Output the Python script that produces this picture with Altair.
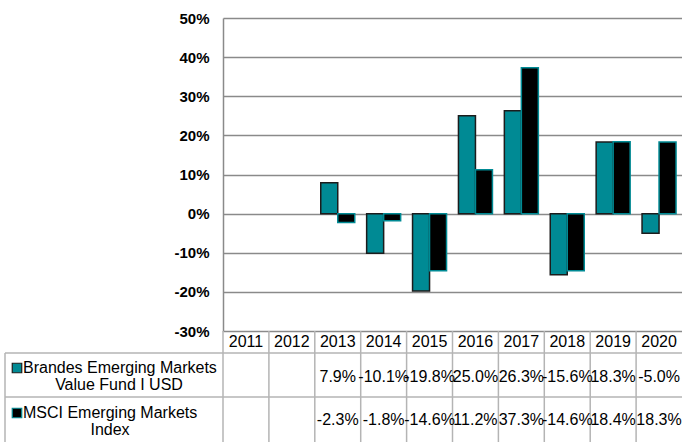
import altair as alt
import pandas as pd

years = ["2011", "2012", "2013", "2014", "2015", "2016", "2017", "2018", "2019", "2020"]
fund = [None, None, 7.9, -10.1, -19.8, 25.0, 26.3, -15.6, 18.3, -5.0]
index_vals = [None, None, -2.3, -1.8, -14.6, 11.2, 37.3, -14.6, 18.4, 18.3]
series_names = ["Brandes Emerging Markets Value Fund I USD", "MSCI Emerging Markets Index"]
label_lines = [["Brandes Emerging Markets", "Value Fund I USD"], ["MSCI Emerging Markets", "Index"]]
y_ticks = [-30, -20, -10, 0, 10, 20, 30, 40, 50]

TEAL = "#008A94"
DARK = "#1c1c1c"
FONT = "Liberation Sans"
GRID = "#8a8a8a"
TABLE = "#b4b4b4"

rows = []
for s, vals in zip(series_names, [fund, index_vals]):
    for y, v in zip(years, vals):
        if v is not None:
            rows.append({"year": y, "series": s, "value": v})
bars_df = pd.DataFrame(rows)


def fmt(v):
    return "" if v is None else f"{v:.1f}%"


table_df = pd.DataFrame({
    "year": years,
    "fund_txt": [fmt(v) for v in fund],
    "index_txt": [fmt(v) for v in index_vals],
})
years_df = pd.DataFrame({"year": years})
one = pd.DataFrame({"k": [0]})

W, H = 459, 313
x_scale = alt.Scale(domain=years, paddingInner=0, paddingOuter=0)

bars = alt.Chart(bars_df).mark_bar(strokeWidth=1.5).encode(
    x=alt.X("year:N", scale=x_scale, axis=None),
    xOffset=alt.XOffset("series:N", scale=alt.Scale(domain=series_names, paddingInner=0, paddingOuter=0.35)),
    y=alt.Y("value:Q", scale=alt.Scale(domain=[-30, 50], nice=False, zero=False),
            axis=alt.Axis(values=y_ticks, title=None, grid=True, gridColor=GRID, gridWidth=1.5,
                          domainColor=GRID, domainWidth=1.5, ticks=False,
                          labelExpr="datum.value + '%'", labelFont=FONT, labelFontSize=15,
                          labelFontWeight="bold", labelColor="black", labelPadding=14)),
    color=alt.Color("series:N", scale=alt.Scale(domain=series_names, range=[TEAL, "black"]), legend=None),
    stroke=alt.Stroke("series:N", scale=alt.Scale(domain=series_names, range=[DARK, TEAL]), legend=None),
)

vrules = alt.Chart(years_df).mark_rule(color=TABLE, strokeWidth=1.5).encode(
    x=alt.X("year:N", scale=x_scale, axis=None, bandPosition=0),
    y=alt.value(H), y2=alt.value(440),
)

hrule1 = alt.Chart(one).mark_rule(color=TABLE, strokeWidth=1.5).encode(
    x=alt.value(-218), x2=alt.value(W), y=alt.value(335))
hrule2 = alt.Chart(one).mark_rule(color=TABLE, strokeWidth=1.5).encode(
    x=alt.value(-218), x2=alt.value(W), y=alt.value(379))
lrule = alt.Chart(one).mark_rule(color=TABLE, strokeWidth=1.5).encode(
    x=alt.value(-218), y=alt.value(335), y2=alt.value(440))

year_txt = alt.Chart(years_df).mark_text(font=FONT, fontSize=16, baseline="middle", color="black").encode(
    x=alt.X("year:N", scale=x_scale, axis=None), y=alt.value(324), text="year:N")

fund_txt = alt.Chart(table_df).mark_text(font=FONT, fontSize=16, baseline="middle", color="black").encode(
    x=alt.X("year:N", scale=x_scale, axis=None), y=alt.value(359), text="fund_txt:N")
index_txt = alt.Chart(table_df).mark_text(font=FONT, fontSize=16, baseline="middle", color="black").encode(
    x=alt.X("year:N", scale=x_scale, axis=None), y=alt.value(402), text="index_txt:N")

lab_layers = []
for (l1, l2), y1, y2, cx2 in zip(label_lines, [350, 395], [367, 412], [-104, -113]):
    lab_layers.append(alt.Chart(one).mark_text(font=FONT, fontSize=16, baseline="middle", align="left",
                                               color="black").encode(
        x=alt.value(-200), y=alt.value(y1), text=alt.value(l1)))
    lab_layers.append(alt.Chart(one).mark_text(font=FONT, fontSize=16, baseline="middle", align="center",
                                               color="black").encode(
        x=alt.value(cx2), y=alt.value(y2), text=alt.value(l2)))

sq1 = alt.Chart(one).mark_square(size=90, filled=True, color=TEAL, stroke=DARK, strokeWidth=1.2, opacity=1).encode(
    x=alt.value(-206), y=alt.value(350))
sq2 = alt.Chart(one).mark_square(size=90, filled=True, color="black", stroke=TEAL, strokeWidth=1.2, opacity=1).encode(
    x=alt.value(-206), y=alt.value(395))

chart = alt.layer(
    bars, vrules, hrule1, hrule2, lrule, year_txt, fund_txt, index_txt, *lab_layers, sq1, sq2
).properties(
    width=W, height=H,
    autosize=alt.AutoSizeParams(type="none"),
    padding={"left": 223, "top": 18, "right": 0, "bottom": 111},
).configure_view(strokeWidth=0)

chart.save("out.html", embed_options={"renderer": "svg", "actions": False})
